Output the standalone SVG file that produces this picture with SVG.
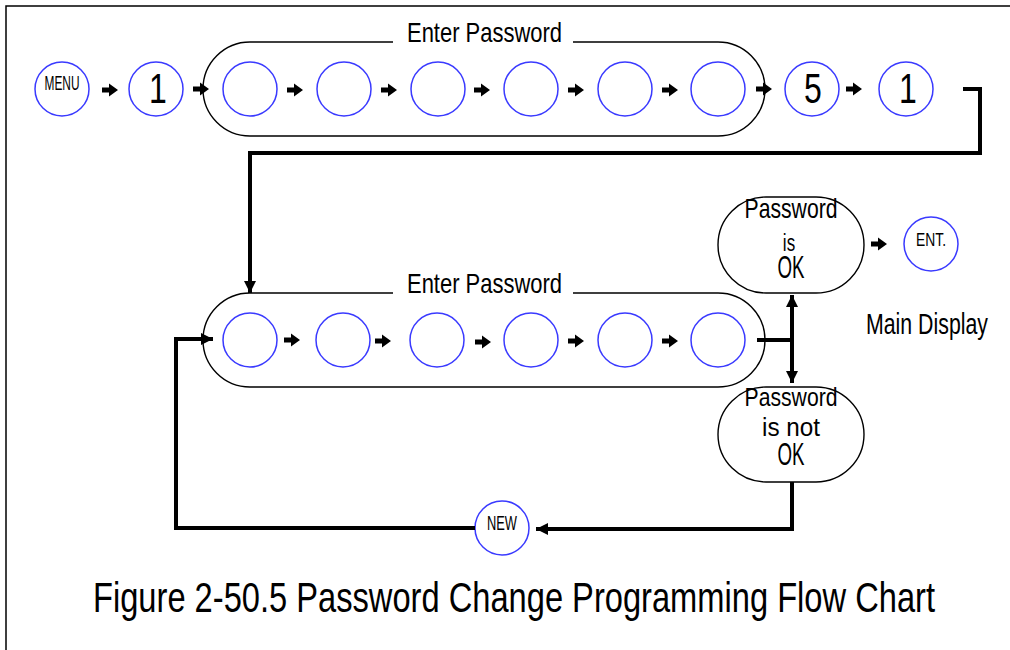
<svg xmlns="http://www.w3.org/2000/svg" xmlns:xlink="http://www.w3.org/1999/xlink" width="1010" height="650" viewBox="0 0 1010 650">
<style>
.key{fill:#fff;stroke:#3a3aff;stroke-width:1.5}
.cap{fill:none;stroke:#000;stroke-width:1.4}
.t{font-family:"Liberation Sans",Arial,sans-serif;fill:#000;text-anchor:middle}
.ts{font-family:"Liberation Sans",Arial,sans-serif;fill:#000}
.wire{fill:none;stroke:#000;stroke-width:4;stroke-linejoin:miter}
.frame{fill:none;stroke:#000;stroke-width:1.5}
</style>
<defs>
<path id="arr" d="M-16,-2.5 H-9 V-6.5 L0,0 L-9,6.5 V2.5 H-16 Z" fill="#000"/>
<marker id="head" viewBox="0 0 12 12" refX="12" refY="6" markerWidth="12" markerHeight="12" markerUnits="userSpaceOnUse" orient="auto-start-reverse">
<path d="M0,0 L12,6 L0,12 Z" fill="#000"/>
</marker>
</defs>
<rect width="1010" height="650" fill="#fff"/>
<path class="frame" d="M6,650 V6 H1010"/>

<g id="group-top">
<path class="cap" d="M393,42 H250 A47,47 0 0 0 250,136 H718 A47,47 0 0 0 718,42 H573"/>
<text class="ts" transform="translate(407,42) scale(1,1.27)" font-size="22" textLength="155" lengthAdjust="spacingAndGlyphs">Enter Password</text>
</g>
<g id="group-bottom">
<path class="cap" d="M393,293 H250 A47,47 0 0 0 250,387 H718 A47,47 0 0 0 718,293 H573"/>
<text class="ts" transform="translate(407,293) scale(1,1.27)" font-size="22" textLength="155" lengthAdjust="spacingAndGlyphs">Enter Password</text>
</g>

<g id="menu"><circle class="key" cx="62" cy="89" r="27"/><text class="t" transform="translate(62,90) scale(1,1.5)" font-size="14" textLength="35" lengthAdjust="spacingAndGlyphs">MENU</text></g>
<g id="k1"><circle class="key" cx="156" cy="89" r="27"/><text class="t" transform="translate(158,103) scale(1,1.35)" font-size="32">1</text></g>
<g id="p1"><circle class="key" cx="250" cy="89" r="27"/></g>
<g id="p2"><circle class="key" cx="344" cy="89" r="27"/></g>
<g id="p3"><circle class="key" cx="438" cy="89" r="27"/></g>
<g id="p4"><circle class="key" cx="531" cy="89" r="27"/></g>
<g id="p5"><circle class="key" cx="625" cy="89" r="27"/></g>
<g id="p6"><circle class="key" cx="718" cy="89" r="27"/></g>
<g id="k5"><circle class="key" cx="812" cy="89" r="27"/><text class="t" transform="translate(813,103) scale(1,1.35)" font-size="32">5</text></g>
<g id="k1b"><circle class="key" cx="906" cy="89" r="27"/><text class="t" transform="translate(908,103) scale(1,1.35)" font-size="32">1</text></g>

<g id="n1"><circle class="key" cx="250" cy="340" r="27"/></g>
<g id="n2"><circle class="key" cx="343" cy="340" r="27"/></g>
<g id="n3"><circle class="key" cx="437" cy="340" r="27"/></g>
<g id="n4"><circle class="key" cx="531" cy="340" r="27"/></g>
<g id="n5"><circle class="key" cx="625" cy="340" r="27"/></g>
<g id="n6"><circle class="key" cx="718" cy="340" r="27"/></g>

<g id="ok">
<rect class="cap" x="718" y="197" width="146" height="96" rx="48" ry="48"/>
<text class="t" transform="translate(791,218) scale(1,1.3)" font-size="21" textLength="93" lengthAdjust="spacingAndGlyphs">Password</text>
<text class="t" transform="translate(789,251) scale(1,1.4)" font-size="17">is</text>
<text class="t" transform="translate(791,278) scale(1,1.45)" font-size="21" textLength="27" lengthAdjust="spacingAndGlyphs">OK</text>
</g>
<g id="notok">
<rect class="cap" x="718" y="387" width="146" height="95" rx="48" ry="48"/>
<text class="t" transform="translate(791,406) scale(1,1.3)" font-size="20" textLength="93" lengthAdjust="spacingAndGlyphs">Password</text>
<text class="t" transform="translate(791,436) scale(1,1.4)" font-size="19" textLength="58" lengthAdjust="spacingAndGlyphs">is not</text>
<text class="t" transform="translate(791,465) scale(1,1.45)" font-size="21" textLength="27" lengthAdjust="spacingAndGlyphs">OK</text>
</g>
<g id="ent"><circle class="key" cx="931" cy="244" r="27"/><text class="t" transform="translate(931,246) scale(1,1.4)" font-size="13" textLength="30" lengthAdjust="spacingAndGlyphs">ENT.</text></g>
<g id="new"><circle class="key" cx="502" cy="528" r="27"/><text class="t" transform="translate(502,530) scale(1,1.5)" font-size="14" textLength="30" lengthAdjust="spacingAndGlyphs">NEW</text></g>

<g id="labels">
<text class="ts" transform="translate(866,334) scale(1,1.35)" font-size="22" textLength="122" lengthAdjust="spacingAndGlyphs">Main Display</text>
<text class="ts" transform="translate(93,612) scale(1,1.3)" font-size="32" textLength="842" lengthAdjust="spacingAndGlyphs">Figure 2-50.5 Password Change Programming Flow Chart</text>
</g>

<g id="connectors">
<use xlink:href="#arr" x="118" y="90"/>
<use xlink:href="#arr" x="209" y="89"/>
<use xlink:href="#arr" x="303" y="90"/>
<use xlink:href="#arr" x="397" y="90"/>
<use xlink:href="#arr" x="490" y="90"/>
<use xlink:href="#arr" x="584" y="90"/>
<use xlink:href="#arr" x="678" y="90"/>
<use xlink:href="#arr" x="772" y="89"/>
<use xlink:href="#arr" x="862" y="89"/>
<use xlink:href="#arr" x="300" y="340"/>
<use xlink:href="#arr" x="391" y="341"/>
<use xlink:href="#arr" x="491" y="342"/>
<use xlink:href="#arr" x="584" y="341"/>
<use xlink:href="#arr" x="678" y="341"/>
<use xlink:href="#arr" x="887" y="244"/>
<path class="wire" d="M963,89 H980 V153 H250 V293" marker-end="url(#head)"/>
<path class="wire" d="M757,340 H792"/>
<path class="wire" d="M792,295 V383" marker-start="url(#head)" marker-end="url(#head)"/>
<path class="wire" d="M792,482 V529 H536" marker-end="url(#head)"/>
<path class="wire" d="M475,528 H176 V339 H213" marker-end="url(#head)"/>
</g>
</svg>
